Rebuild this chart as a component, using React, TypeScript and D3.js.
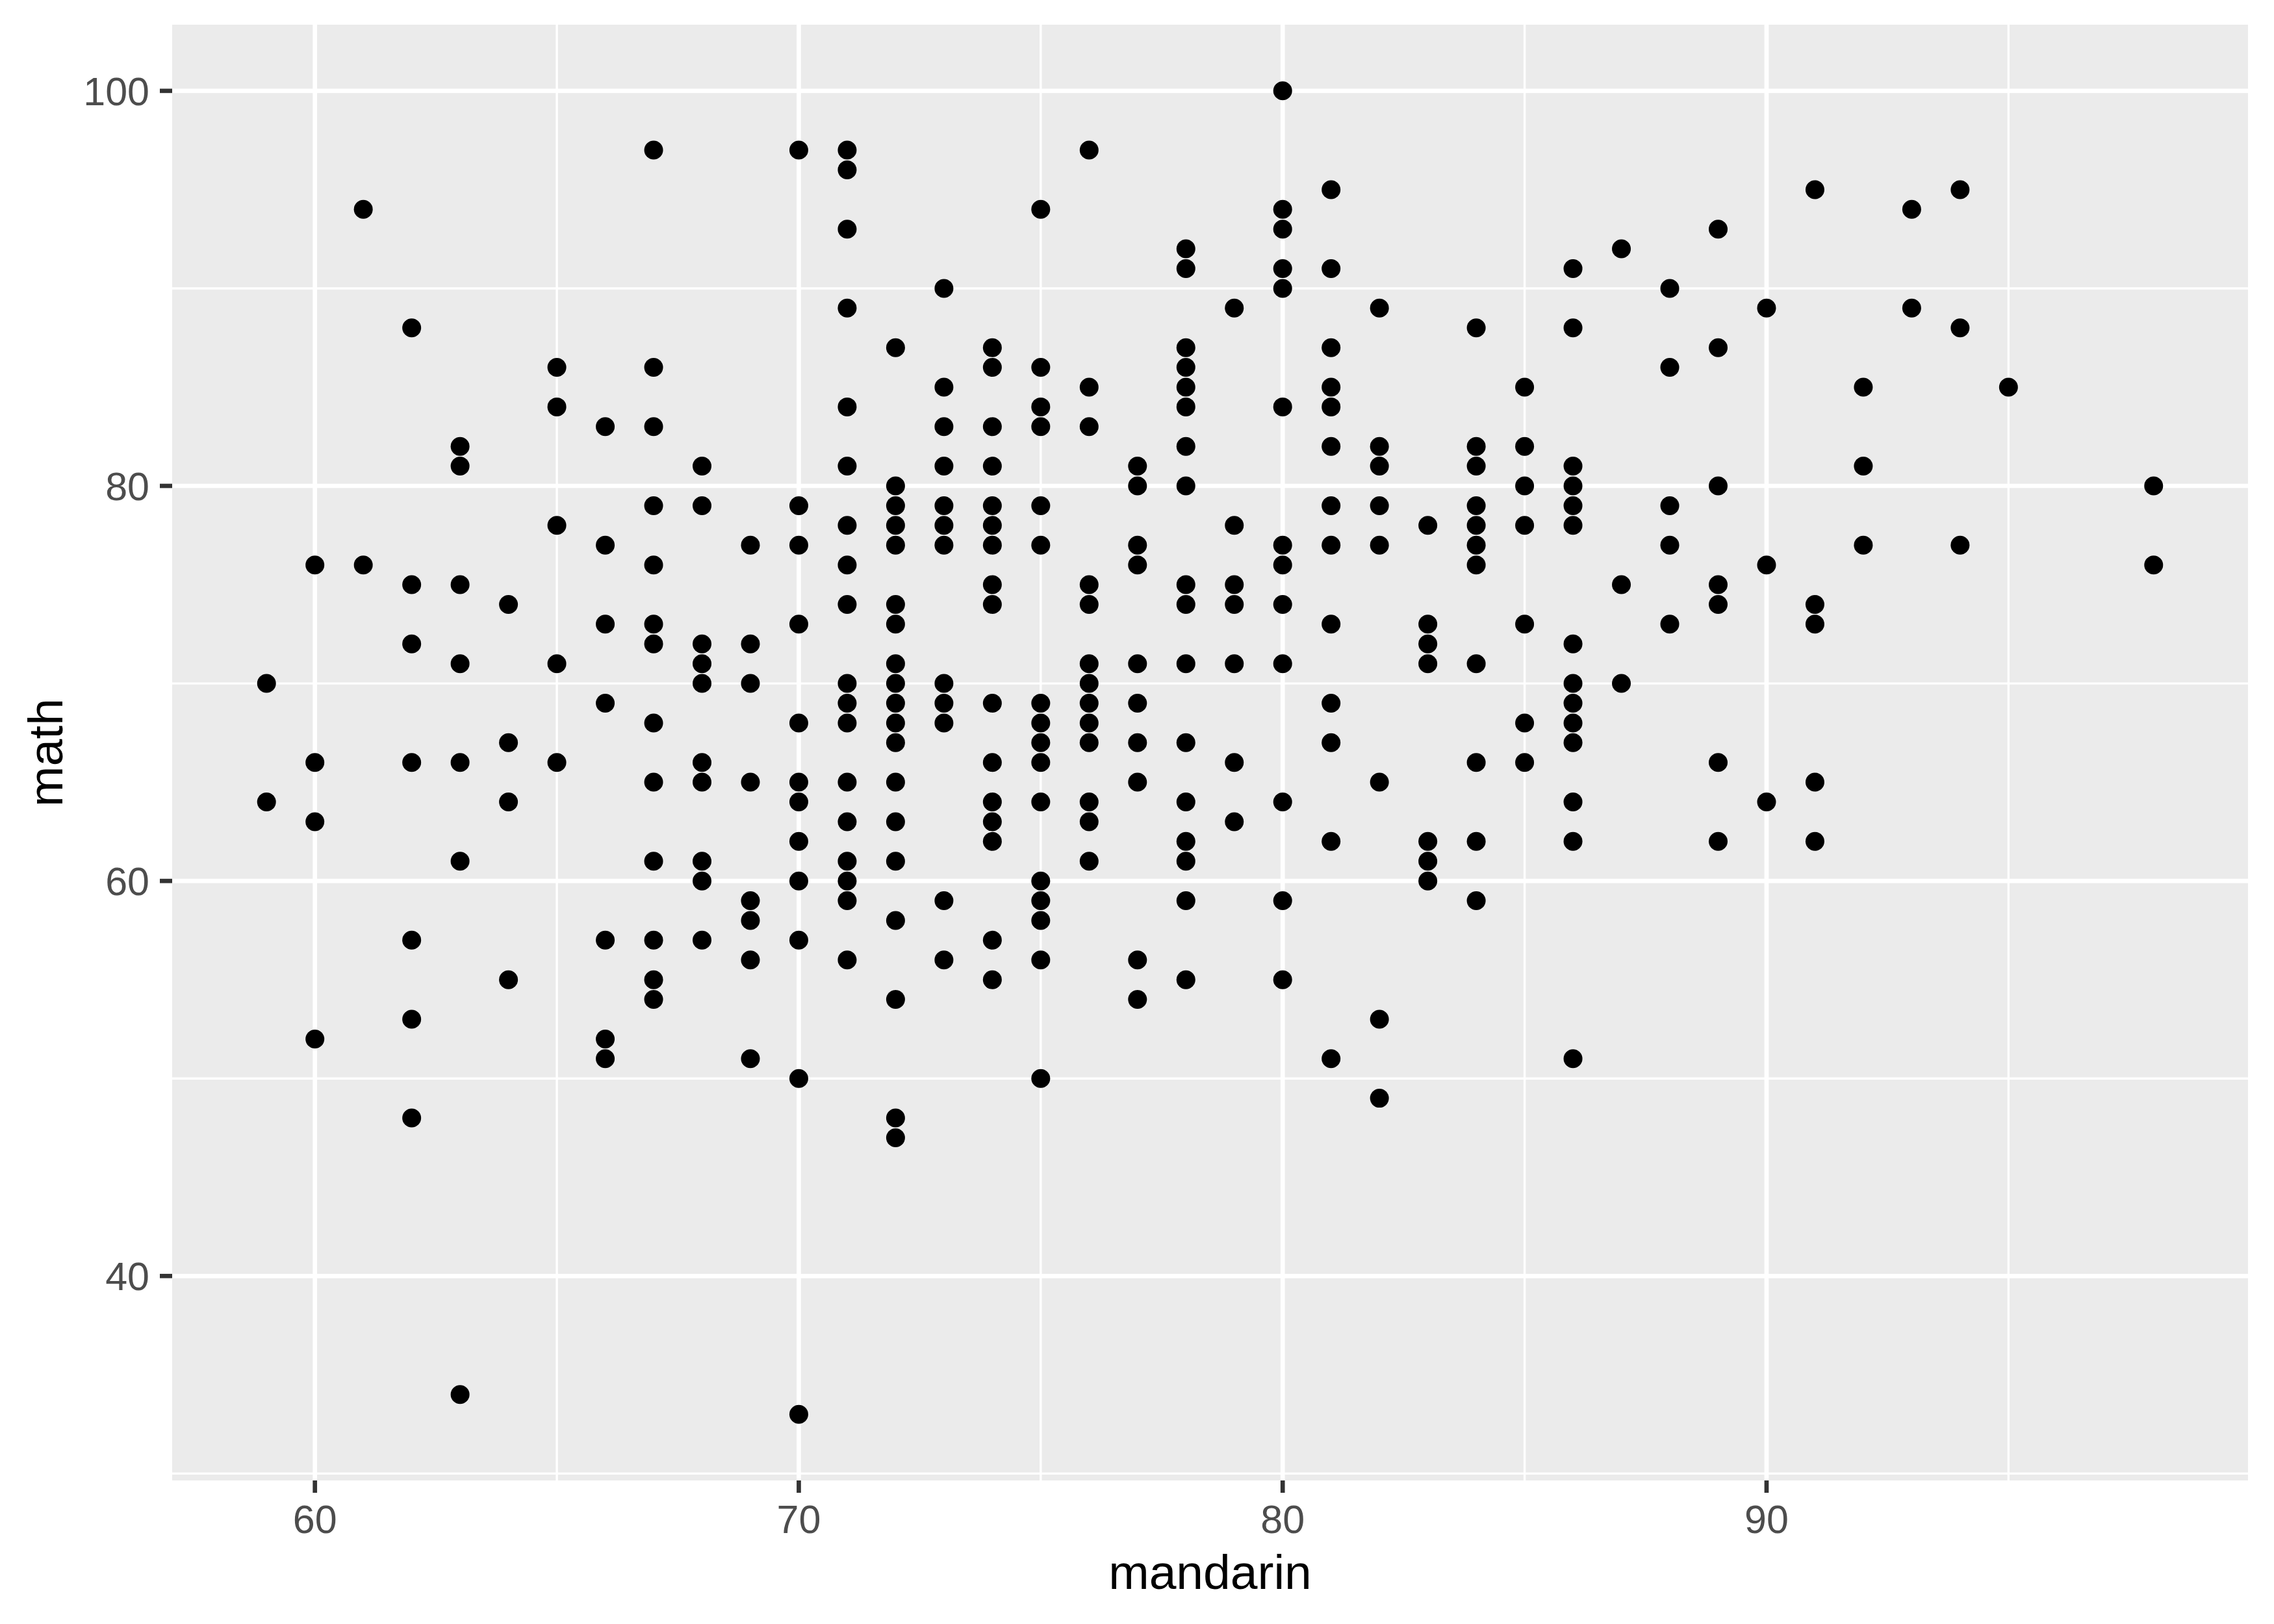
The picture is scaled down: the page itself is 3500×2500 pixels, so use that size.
import React from "react";
import * as d3 from "d3";

// mandarin score (x) for each column of points
const mandarinScores: number[] = [
  59, 60, 61, 62, 63, 64, 65, 66, 67, 68, 69, 70, 71, 72, 73, 74, 75, 76, 77, 78,
  79, 80, 81, 82, 83, 84, 85, 86, 87, 88, 89, 90, 91, 92, 93, 94, 95, 98,
];

// math scores (y) observed at each mandarin score, same order as mandarinScores
const mathByMandarin: number[][] = [
  [70, 64],
  [76, 66, 63, 52],
  [94, 76],
  [88, 75, 72, 66, 57, 53, 48],
  [82, 81, 75, 71, 66, 61, 34],
  [74, 67, 64, 55],
  [86, 84, 78, 71, 66],
  [83, 77, 73, 69, 57, 52, 51],
  [97, 86, 83, 79, 76, 73, 72, 68, 65, 61, 57, 55, 54],
  [81, 79, 72, 71, 70, 66, 65, 61, 60, 57],
  [77, 72, 70, 65, 59, 58, 56, 51],
  [97, 79, 77, 73, 68, 65, 64, 62, 60, 57, 50, 33],
  [97, 96, 93, 89, 84, 81, 78, 76, 74, 70, 69, 68, 65, 63, 61, 60, 59, 56],
  [87, 80, 79, 78, 77, 74, 73, 71, 70, 69, 68, 67, 65, 63, 61, 58, 54, 48, 47],
  [90, 85, 83, 81, 79, 78, 77, 70, 69, 68, 59, 56],
  [87, 86, 83, 81, 79, 78, 77, 75, 74, 69, 66, 64, 63, 62, 57, 55],
  [94, 86, 84, 83, 79, 77, 69, 68, 67, 66, 64, 60, 59, 58, 56, 50],
  [97, 85, 83, 75, 74, 71, 70, 69, 68, 67, 64, 63, 61],
  [81, 80, 77, 76, 71, 69, 67, 65, 56, 54],
  [92, 91, 87, 86, 85, 84, 82, 80, 75, 74, 71, 67, 64, 62, 61, 59, 55],
  [89, 78, 75, 74, 71, 66, 63],
  [100, 94, 93, 91, 90, 84, 77, 76, 74, 71, 64, 59, 55],
  [95, 91, 87, 85, 84, 82, 79, 77, 73, 69, 67, 62, 51],
  [89, 82, 81, 79, 77, 65, 53, 49],
  [78, 73, 72, 71, 62, 61, 60],
  [88, 82, 81, 79, 78, 77, 76, 71, 66, 62, 59],
  [85, 82, 80, 78, 73, 68, 66],
  [91, 88, 81, 80, 79, 78, 72, 70, 69, 68, 67, 64, 62, 51],
  [92, 75, 70],
  [90, 86, 79, 77, 73],
  [93, 87, 80, 75, 74, 66, 62],
  [89, 76, 64],
  [95, 74, 73, 65, 62],
  [85, 81, 77],
  [94, 89],
  [95, 88, 77],
  [85],
  [80, 76],
];

const xMajorTicks: number[] = [60, 70, 80, 90];
const xMinorTicks: number[] = [65, 75, 85, 95];
const yMajorTicks: number[] = [40, 60, 80, 100];
const yMinorTicks: number[] = [30, 50, 70, 90];

const xTitle = "mandarin";
const yTitle = "math";

export default function App() {
  const W = 3500;
  const H = 2500;
  const panel = { left: 265, right: 3460, top: 38, bottom: 2279 };

  const points = mandarinScores.flatMap((m, i) =>
    mathByMandarin[i].map((v) => ({ x: m, y: v }))
  );

  const xs = points.map((p) => p.x);
  const ys = points.map((p) => p.y);
  const [x0, x1] = d3.extent(xs) as [number, number];
  const [y0, y1] = d3.extent(ys) as [number, number];
  const xPad = (x1 - x0) * 0.05;
  const yPad = (y1 - y0) * 0.05;

  const x = d3
    .scaleLinear()
    .domain([x0 - xPad, x1 + xPad])
    .range([panel.left, panel.right]);
  const y = d3
    .scaleLinear()
    .domain([y0 - yPad, y1 + yPad])
    .range([panel.bottom, panel.top]);

  const font = "'Liberation Sans', Arial, sans-serif";
  const tickFont = 61;
  const titleFont = 75;
  const tickLen = 19;
  const majorW = 6.7;
  const minorW = 3.4;

  return (
    <svg
      width={W}
      height={H}
      style={{ position: "absolute", left: 0, top: 0, background: "#fff" }}
    >
      <rect x={0} y={0} width={W} height={H} fill="#ffffff" />
      <rect
        x={panel.left}
        y={panel.top}
        width={panel.right - panel.left}
        height={panel.bottom - panel.top}
        fill="#EBEBEB"
      />
      {/* minor grid */}
      {xMinorTicks.map((t) => (
        <line
          key={"xm" + t}
          x1={x(t)}
          x2={x(t)}
          y1={panel.top}
          y2={panel.bottom}
          stroke="#ffffff"
          strokeWidth={minorW}
        />
      ))}
      {yMinorTicks.map((t) => (
        <line
          key={"ym" + t}
          x1={panel.left}
          x2={panel.right}
          y1={y(t)}
          y2={y(t)}
          stroke="#ffffff"
          strokeWidth={minorW}
        />
      ))}
      {/* major grid */}
      {xMajorTicks.map((t) => (
        <line
          key={"xM" + t}
          x1={x(t)}
          x2={x(t)}
          y1={panel.top}
          y2={panel.bottom}
          stroke="#ffffff"
          strokeWidth={majorW}
        />
      ))}
      {yMajorTicks.map((t) => (
        <line
          key={"yM" + t}
          x1={panel.left}
          x2={panel.right}
          y1={y(t)}
          y2={y(t)}
          stroke="#ffffff"
          strokeWidth={majorW}
        />
      ))}
      {/* points */}
      {points.map((p, i) => (
        <circle key={i} cx={x(p.x)} cy={y(p.y)} r={14.5} fill="#000000" />
      ))}
      {/* x axis ticks and labels */}
      {xMajorTicks.map((t) => (
        <g key={"xt" + t}>
          <line
            x1={x(t)}
            x2={x(t)}
            y1={panel.bottom}
            y2={panel.bottom + tickLen}
            stroke="#333333"
            strokeWidth={majorW}
          />
          <text
            x={x(t)}
            y={2360}
            textAnchor="middle"
            fontFamily={font}
            fontSize={tickFont}
            fill="#4D4D4D"
          >
            {t}
          </text>
        </g>
      ))}
      {/* y axis ticks and labels */}
      {yMajorTicks.map((t) => (
        <g key={"yt" + t}>
          <line
            x1={panel.left - tickLen}
            x2={panel.left}
            y1={y(t)}
            y2={y(t)}
            stroke="#333333"
            strokeWidth={majorW}
          />
          <text
            x={230}
            y={y(t)}
            dy="0.36em"
            textAnchor="end"
            fontFamily={font}
            fontSize={tickFont}
            fill="#4D4D4D"
          >
            {t}
          </text>
        </g>
      ))}
      {/* axis titles */}
      <text
        x={(panel.left + panel.right) / 2}
        y={2446}
        textAnchor="middle"
        fontFamily={font}
        fontSize={titleFont}
        fill="#000000"
      >
        {xTitle}
      </text>
      <text
        transform={`translate(96, ${(panel.top + panel.bottom) / 2}) rotate(-90)`}
        textAnchor="middle"
        fontFamily={font}
        fontSize={titleFont}
        fill="#000000"
      >
        {yTitle}
      </text>
    </svg>
  );
}
